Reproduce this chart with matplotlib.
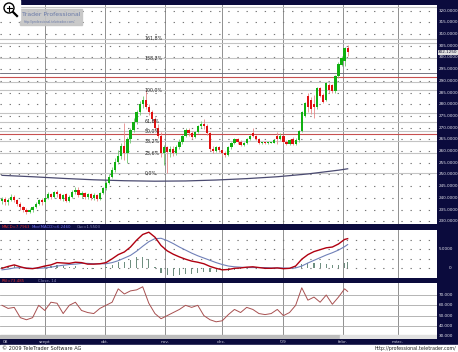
import numpy as np
import matplotlib.pyplot as plt
import matplotlib.transforms as mtransforms
from matplotlib.patches import Rectangle, Ellipse
from matplotlib.lines import Line2D

NAVY = '#0b0b3d'

# daily candles, Aug 2008 - Feb 2009
opens = [238.5, 239.5, 238.0, 239.0, 240.5, 239.0, 237.5, 236.0, 235.0, 234.0,
         234.8, 236.0, 237.5, 239.0, 238.0, 240.0, 241.5, 240.5, 242.5, 241.5,
         239.5, 241.5, 238.5, 240.5, 242.5, 243.5, 241.0, 242.0, 240.5, 241.5,
         240.0, 241.0, 239.5, 242.0, 244.0, 246.5, 249.0, 252.0, 255.5, 258.0,
         262.0, 259.0, 265.0, 269.0, 272.5, 276.5, 280.0, 282.0, 279.0, 276.5,
         273.5, 270.0, 266.5, 259.0, 261.5, 259.5, 261.0, 259.0, 261.5, 264.0,
         266.5, 269.0, 267.5, 266.0, 268.0, 270.5, 271.5, 270.5, 267.5, 261.0,
         260.0, 261.5, 260.5, 259.0, 258.5, 261.5, 263.5, 265.0, 264.0, 262.5,
         263.5, 265.0, 267.5, 266.5, 265.0, 263.5, 263.6, 263.5, 263.5, 263.6,
         266.5, 265.0, 266.5, 264.0, 263.0, 265.0, 263.0, 264.5, 268.5, 275.0,
         283.5, 282.0, 280.0, 278.8, 287.0, 284.0, 282.0, 288.0, 288.0, 285.5,
         292.0, 296.8, 298.5, 304.0]
highs = [240.5, 240.5, 240.0, 241.5, 241.0, 239.5, 238.0, 236.5, 235.5, 235.5,
         236.5, 238.0, 239.5, 240.0, 240.5, 242.5, 242.0, 243.0, 243.5, 242.0,
         241.5, 242.0, 241.0, 243.5, 244.5, 244.5, 243.0, 242.5, 242.0, 242.0,
         242.0, 241.5, 242.5, 244.5, 247.0, 250.0, 253.0, 257.0, 260.5, 263.5,
         272.0, 266.0, 270.0, 274.0, 277.5, 281.5, 283.5, 286.1, 280.0, 277.5,
         274.5, 271.5, 268.0, 262.5, 262.0, 262.0, 262.0, 262.5, 265.0, 267.0,
         270.0, 270.0, 268.5, 268.5, 271.0, 273.0, 273.5, 271.5, 268.0, 262.0,
         262.0, 262.0, 261.0, 260.0, 262.0, 264.0, 265.5, 265.5, 264.5, 264.0,
         265.5, 267.0, 270.0, 267.0, 265.5, 264.0, 264.0, 263.8, 264.0, 265.0,
         268.0, 267.5, 267.0, 264.5, 265.0, 266.0, 265.5, 269.0, 277.0, 281.0,
         285.0, 283.0, 284.0, 287.5, 287.5, 285.0, 289.5, 289.0, 288.5, 292.5,
         298.0, 300.5, 304.5, 305.2]
lows = [237.5, 237.0, 237.0, 238.5, 238.0, 236.5, 235.0, 234.0, 233.0, 233.5,
        234.0, 235.5, 237.0, 237.0, 237.5, 239.5, 239.5, 240.0, 240.5, 239.0,
        238.5, 238.0, 238.0, 240.0, 241.5, 240.5, 240.0, 239.5, 239.5, 239.0,
        239.0, 238.5, 239.0, 241.5, 243.5, 246.0, 248.5, 251.0, 254.5, 256.5,
        256.0, 255.0, 263.5, 268.0, 271.5, 275.5, 278.5, 278.0, 275.5, 272.5,
        269.0, 265.5, 257.5, 254.0, 250.6, 257.5, 258.0, 258.5, 261.0, 263.0,
        266.0, 266.5, 265.0, 265.5, 267.5, 270.0, 269.5, 267.0, 260.0, 259.0,
        259.5, 259.5, 258.0, 257.5, 258.0, 261.0, 263.0, 263.0, 262.0, 262.0,
        263.0, 264.5, 266.0, 264.5, 263.0, 263.0, 263.2, 263.2, 263.3, 263.3,
        263.0, 264.5, 263.5, 262.5, 262.5, 262.5, 262.5, 264.0, 268.0, 274.5,
        276.5, 276.0, 274.0, 278.0, 283.0, 280.5, 281.5, 285.0, 285.0, 285.0,
        291.0, 296.5, 296.5, 300.5]
closes = [239.5, 238.0, 239.0, 240.5, 239.0, 237.5, 236.0, 235.0, 234.0, 234.8,
          236.0, 237.5, 239.0, 238.0, 240.0, 241.5, 240.5, 242.5, 241.5, 239.5,
          241.0, 238.5, 240.5, 242.5, 243.5, 241.0, 242.0, 240.5, 241.5, 240.0,
          241.0, 239.5, 242.0, 244.0, 246.5, 249.0, 252.0, 255.5, 258.0, 262.0,
          259.0, 265.0, 269.0, 272.5, 276.5, 280.0, 282.0, 279.0, 276.5, 273.5,
          270.0, 266.5, 259.0, 261.5, 259.5, 261.0, 259.0, 261.5, 264.0, 266.5,
          269.0, 267.5, 266.0, 268.0, 270.5, 271.5, 270.5, 267.5, 261.0, 260.0,
          261.5, 260.5, 259.0, 258.5, 261.5, 263.5, 265.0, 264.0, 262.5, 263.5,
          265.0, 266.5, 266.5, 265.0, 263.5, 263.6, 263.5, 263.5, 263.6, 264.5,
          265.0, 266.5, 264.0, 263.0, 264.5, 263.0, 264.5, 268.5, 276.5, 280.5,
          279.0, 278.0, 278.8, 287.0, 283.5, 281.0, 289.0, 286.0, 285.5, 292.0,
          297.0, 299.8, 304.0, 302.1]

# long moving average
ma_idx = [0, 10, 20, 30, 40, 50, 60, 70, 80, 90, 100, 110, 113]
ma_vals = [249.6, 249.0, 248.3, 247.7, 247.3, 247.1, 247.2, 247.6, 248.2, 249.0, 250.2, 251.8, 252.4]

fib_labels = ['0,0%', '23,6%', '38,2%', '50,0%', '61,8%', '100,0%', '138,2%', '161,8%']
fib_prices = [250.6, 259.0, 264.2, 268.35, 272.5, 286.1, 299.7, 308.0]
extra_levels = [321.5, 306.2, 289.5, 276.3]
red_levels = [291.7, 267.3]
dark_level = 293.3
last_price = 302.125

# indicators (every second session)
ind_idx = list(range(0, 113, 2)) + [113]
macd = [0.0, 0.5, 0.9, 0.4, 0.0, -0.1, 0.2, 0.6, 0.9, 1.5, 1.4, 1.3, 1.6, 1.5, 1.1,
        1.1, 1.2, 1.5, 2.5, 3.6, 4.3, 5.6, 7.4, 8.9, 9.5, 8.2, 6.0, 4.6, 3.7, 3.0,
        2.4, 1.9, 1.6, 1.2, 0.5, 0.0, -0.4, -0.3, 0.0, 0.1, 0.3, 0.4, 0.2, 0.0, 0.0,
        0.1, -0.1, 0.0, 0.6, 2.4, 3.6, 4.4, 4.9, 5.4, 5.6, 6.4, 7.6, 7.8]
signal = [-0.4, -0.2, 0.1, 0.2, 0.1, 0.0, 0.0, 0.1, 0.3, 0.6, 0.8, 1.0, 1.1, 1.3, 1.3,
          1.2, 1.2, 1.2, 1.5, 2.0, 2.7, 3.4, 4.5, 5.8, 7.0, 7.8, 7.9, 7.3, 6.5, 5.6,
          4.8, 4.0, 3.3, 2.7, 2.1, 1.5, 1.0, 0.6, 0.4, 0.3, 0.2, 0.2, 0.2, 0.2, 0.1,
          0.1, 0.1, 0.0, 0.1, 0.6, 1.4, 2.1, 2.8, 3.5, 4.1, 4.8, 5.7, 6.25]
osc = [0.4, 0.7, 0.8, 0.2, -0.1, -0.1, 0.2, 0.5, 0.6, 0.9, 0.6, 0.3, 0.5, 0.2, -0.2,
       -0.1, 0.0, 0.3, 1.0, 1.6, 1.6, 2.2, 2.9, 3.1, 2.5, 0.4, -1.2, -1.8, -1.9, -1.8,
       -1.6, -1.4, -1.2, -1.0, -1.1, -1.0, -0.9, -0.6, -0.4, -0.2, 0.1, 0.2, 0.0, -0.2, -0.1,
       0.0, -0.2, 0.0, 0.5, 1.2, 1.5, 1.5, 1.3, 1.2, 0.9, 1.0, 1.4, 1.55]
rsi = [60, 57, 58, 48, 46, 48, 60, 55, 63, 62, 52, 60, 63, 55, 53,
       52, 57, 60, 63, 76, 71, 74, 75, 78, 62, 52, 47, 50, 53, 56,
       60, 58, 60, 50, 46, 44, 45, 51, 56, 53, 58, 56, 52, 51, 52,
       56, 50, 53, 60, 77, 65, 68, 63, 70, 61, 68, 76, 73.5]

months = ['08', 'szept', 'okt.', 'nov.', 'dec.', "'09", 'febr.', 'márc.']
month_pos = [0.3, 14.05, 33.7, 53.3, 71.9, 91.8, 111.4, 129.4]

fig = plt.figure(figsize=(4.58, 3.52), dpi=100, facecolor=NAVY)
ax = fig.add_axes([0, 0.3636, 0.9541, 0.6222])
ax_m = fig.add_axes([0, 0.2102, 0.9541, 0.1364])
ax_r = fig.add_axes([0, 0.0369, 0.9541, 0.1591])

dots = (0, (1.2, 7))
for a in (ax, ax_m, ax_r):
    a.set_facecolor('white')
    a.set_xlim(-0.65, 142.2)
    a.set_xticks([])
    a.set_yticks([])
    for s in a.spines.values():
        s.set_visible(False)
    for p in month_pos[1:]:
        a.axvline(p, color='#909090', lw=0.7, zorder=1)

# ---- main price panel
ax.set_ylim(228.8, 322.4)
for p in range(230, 325, 5):
    ax.axhline(p, color='#777777', lw=0.8, ls=dots, zorder=1)
for p in fib_prices + extra_levels:
    ax.axhline(p, color='#c4c4c4', lw=0.8, zorder=1)
for p in red_levels:
    ax.axhline(p, color='#c85050', lw=0.8, zorder=2)
ax.axhline(dark_level, color='#606070', lw=0.6, zorder=2)
for lab, p in zip(fib_labels, fib_prices):
    ax.text(46.7, p, lab, fontsize=3.4, va='center', ha='left', color='#222222', zorder=5)

ax.plot(ma_idx, ma_vals, color='#4a4a70', lw=0.9, zorder=3)

o = np.array(opens)
h = np.array(highs)
l = np.array(lows)
c = np.array(closes)
x = np.arange(len(c))
up = c >= o
body_col = np.where(up, '#10b010', '#e01010')
wick_col = np.where(up, '#70c870', '#e88888')
ax.vlines(x, l, h, colors=wick_col, lw=0.6, zorder=3)
ax.bar(x, np.maximum(np.abs(c - o), 0.25), bottom=np.minimum(o, c), width=0.72,
       color=body_col, linewidth=0, zorder=4)

ytf = mtransforms.blended_transform_factory(fig.transFigure, ax.transData)
for p in range(230, 325, 5):
    ax.text(439 / 458, p, f'{p:.4f}', transform=ytf, fontsize=3.0, color='#e8e8f0',
            va='center', ha='left', clip_on=False)
ax.text(438 / 458, last_price, f'{last_price:.4f}', transform=ytf, fontsize=3.0,
        color='#101030', va='center', ha='left', clip_on=False,
        bbox=dict(boxstyle='square,pad=0.1', fc='#e0e0e0', ec='none'))

# ---- MACD panel
ax_m.set_ylim(-2.55, 10.08)
for p in [0, 2.5, 5, 7.5]:
    ax_m.axhline(p, color='#777777', lw=0.8, ls=dots, zorder=1)
ax_m.bar(ind_idx, osc, width=0.4, color='#6f8f80', linewidth=0, zorder=2)
ax_m.plot(ind_idx, signal, color='#7080b8', lw=0.8, zorder=3)
ax_m.plot(ind_idx, macd, color='#b00010', lw=1.0, zorder=4)
mtf = mtransforms.blended_transform_factory(fig.transFigure, ax_m.transData)
ax_m.text(439 / 458, 5, '5.0000', transform=mtf, fontsize=3.0, color='#e8e8f0', va='center', clip_on=False)
ax_m.text(449 / 458, 0, '0', transform=mtf, fontsize=3.0, color='#e8e8f0', va='center', clip_on=False)

# ---- RSI panel
ax_r.set_ylim(27.3, 81.65)
for p in [30, 40, 50, 60, 70]:
    ax_r.axhline(p, color='#a8a8a8', lw=0.6, zorder=1)
ax_r.plot(ind_idx, rsi, color='#a85050', lw=0.7, zorder=3)
ax_r.add_patch(Rectangle((0, 0), 0.778, 4 / 56, transform=ax_r.transAxes, color='#bdbdbd', zorder=2))
ax_r.add_patch(Rectangle((0.778, 0), 0.222, 4 / 56, transform=ax_r.transAxes, color='#e2e2e2', zorder=2))
rtf = mtransforms.blended_transform_factory(fig.transFigure, ax_r.transData)
for p in [70, 60, 50, 40, 30]:
    ax_r.text(439 / 458, p, f'{p}.000', transform=rtf, fontsize=3.0, color='#e8e8f0',
              va='center', clip_on=False)

# ---- month labels in bottom bar
btf = mtransforms.blended_transform_factory(ax_r.transData, fig.transFigure)
for lab, p in zip(months, month_pos):
    ax_r.text(p, 0.0284, lab, transform=btf, fontsize=3.2, color='#c8c8d8',
              ha='left' if lab == '08' else 'center', va='center', clip_on=False)

# ---- legends in separator bars
fig.text(0.004, 0.355, 'MACD=7.7963', fontsize=2.8, color='#e03030', va='center')
fig.text(0.070, 0.355, 'Mov(MACD)=6.2460', fontsize=2.8, color='#7070f0', va='center')
fig.text(0.168, 0.355, 'Osc=1.5503', fontsize=2.8, color='#9090c0', va='center')
fig.text(0.004, 0.2031, 'RSI=73.485', fontsize=2.8, color='#e03030', va='center')
fig.text(0.083, 0.2031, 'Close, 14', fontsize=2.8, color='#9090c0', va='center')

# ---- bottom white strip
fig.patches.append(Rectangle((0, 0), 1, 7 / 352, transform=fig.transFigure,
                             color='white', zorder=0))
fig.text(0.004, 0.0095, '\u00a9 2009 TeleTrader Software AG', fontsize=3.6, color='#202020', va='center')
fig.text(0.996, 0.0095, 'http://professional.teletrader.com/', fontsize=3.4, color='#202020',
         va='center', ha='right')

# ---- logo watermark and zoom icon
fig.patches.append(Rectangle((20 / 458, 1 - 25 / 352), 62 / 458, 16 / 352, transform=fig.transFigure,
                             color='#c4c4c4', alpha=0.9, zorder=5))
fig.text(22 / 458, 1 - 14.5 / 352, 'Trader Professional', fontsize=4.4, color='#6a7aa8',
         va='center', zorder=6)
fig.text(24 / 458, 1 - 21.5 / 352, 'http://professional.teletrader.com/', fontsize=2.2,
         color='#6a7aa8', va='center', zorder=6)
fig.patches.append(Rectangle((0, 1 - 20 / 352), 20 / 458, 20 / 352, transform=fig.transFigure,
                             color='white', zorder=5))
fig.patches.append(Ellipse((9 / 458, 1 - 8 / 352), 10 / 458, 10 / 352, transform=fig.transFigure,
                           fc='white', ec='black', lw=1.0, zorder=6))
fig.lines.append(Line2D([12.5 / 458, 17 / 458], [1 - 11.5 / 352, 1 - 16 / 352],
                        transform=fig.transFigure, color='black', lw=1.6, zorder=6))
fig.lines.append(Line2D([6.5 / 458, 11.5 / 458], [1 - 8 / 352, 1 - 8 / 352],
                        transform=fig.transFigure, color='black', lw=0.8, zorder=7))
fig.lines.append(Line2D([9 / 458, 9 / 458], [1 - 5.5 / 352, 1 - 10.5 / 352],
                        transform=fig.transFigure, color='black', lw=0.8, zorder=7))

fig.savefig('out.png', dpi=100, facecolor=NAVY)
